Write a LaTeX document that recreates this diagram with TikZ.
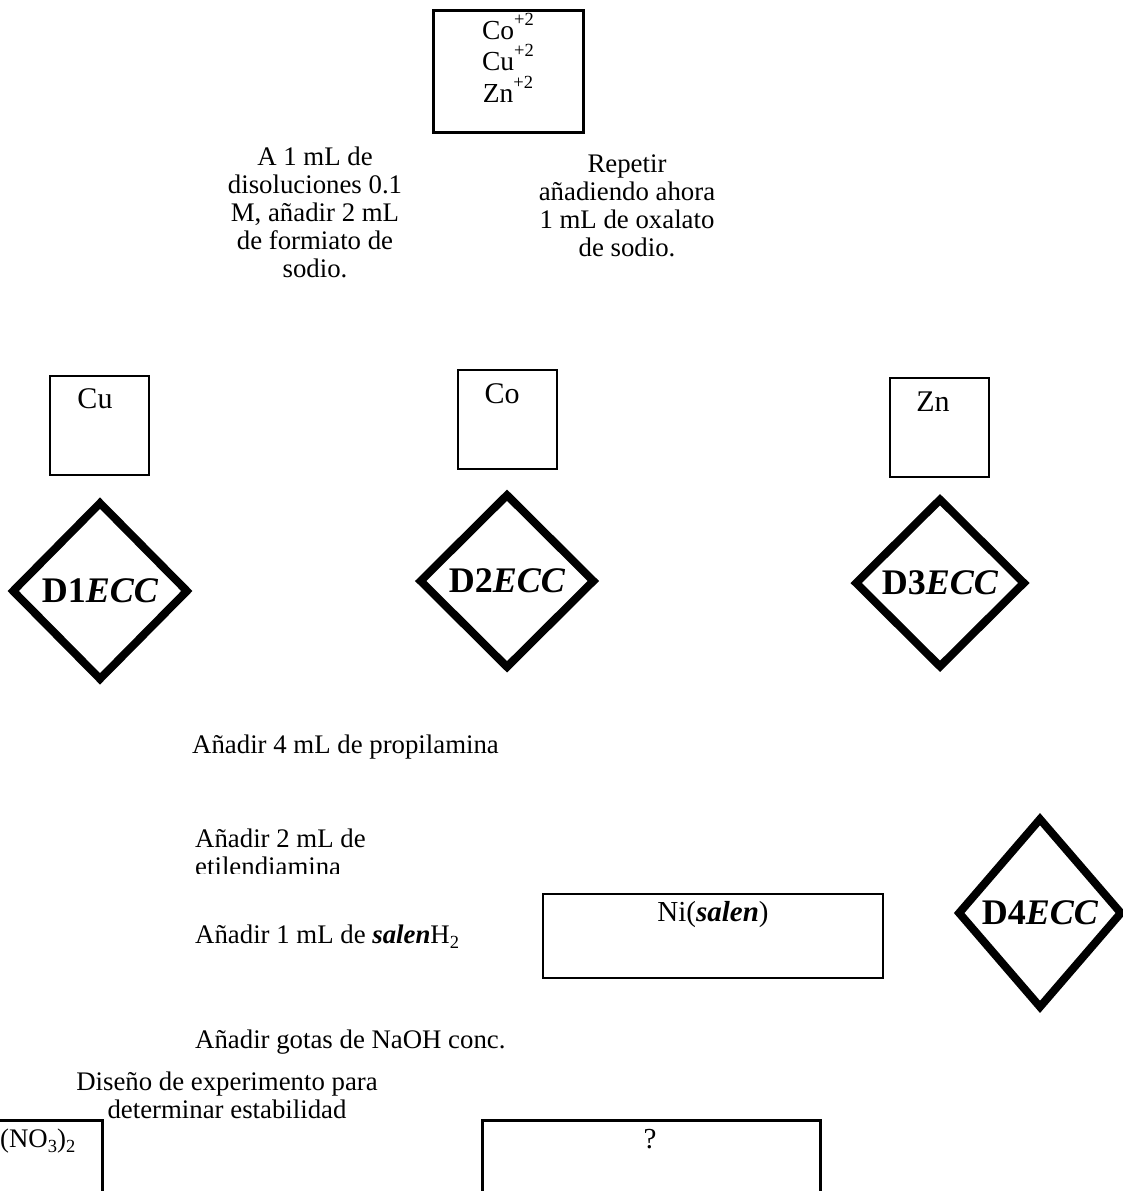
\documentclass[tikz,border=0pt]{standalone}
\usepackage{fontspec}
\setmainfont{Liberation Serif}
\usetikzlibrary{shapes.geometric}
\newcommand{\carga}[1]{\raisebox{14pt}{\fontsize{18.5}{18.5}\selectfont #1}}
\newcommand{\indice}[1]{\raisebox{-5pt}{\fontsize{18.5}{18.5}\selectfont #1}}
\begin{document}
\begin{tikzpicture}[x=1pt,y=-1pt,
        font=\fontsize{26.8}{28}\selectfont,
        caja/.style={draw,line width=2.5pt,inner sep=0pt},
        rombo/.style={diamond,draw,line width=8pt,inner sep=0pt,
                font=\fontsize{36}{40}\selectfont\bfseries},
        texto/.style={inner sep=0pt,align=center}]
        \useasboundingbox (0,0) rectangle (1122,1191);
        % disoluciones de partida
        \node[caja,line width=3pt,minimum width=150,minimum height=122] (iones) at (508,71) {};
        \node[texto,anchor=north,font=\fontsize{27.5}{31.5}\selectfont] (ionest) at (508,13)
                {Co\carga{+2}\\Cu\carga{+2}\\Zn\carga{+2}};
        \node[texto,anchor=north] (formiato) at (315,147)
                {A 1 mL de\\disoluciones 0.1\\M, añadir 2 mL\\de formiato de\\sodio.};
        \node[texto,anchor=north] (oxalato) at (627,155)
                {Repetir\\añadiendo ahora\\1 mL de oxalato\\de sodio.};
        % tubos
        \begin{scope}[every node/.style={caja,minimum width=99,minimum height=99}]
        \node (cu) at (99.5,425.5) {};
        \node (co) at (507.5,419.5) {};
        \node (zn) at (939.5,427.5) {};
        \end{scope}
        \begin{scope}[every node/.style={texto,anchor=base,font=\fontsize{30}{32}\selectfont}]
        \node (cut) at (95,408) {Cu};
        \node (cot) at (502,403) {Co};
        \node (znt) at (933,411) {Zn};
        \end{scope}
        % decisiones
        \node[rombo,minimum width=177,minimum height=179] (d1) at (100,591) {D1\textit{ECC}};
        \node[rombo,minimum width=176,minimum height=175] (d2) at (507,581) {D2\textit{ECC}};
        \node[rombo,minimum width=171,minimum height=170] (d3) at (940,583) {D3\textit{ECC}};
        \node[rombo,minimum width=165,minimum height=191] (d4) at (1040,913) {D4\textit{ECC}};
        % reactivos
        \begin{scope}[every node/.style={texto,anchor=base west}]
        \node (propil) at (192,753) {Añadir 4 mL de propilamina};
        \node (salenh) at (195,943) {Añadir 1 mL de \textbf{\textit{salen}}H\indice{2}};
        \node (naoh) at (195,1048) {Añadir gotas de NaOH conc.};
        \node (nitrato) at (0,1147) {(NO\indice{3})\indice{2}};
        \end{scope}
        \begin{scope}
        \clip (150,800) rectangle (600,873);
        \node[texto,align=left,anchor=north west] (etilen) at (195,829)
                {Añadir 2 mL de\\etilendiamina};
        \end{scope}
        \node[caja,minimum width=340,minimum height=84] (nisalen) at (713,936) {};
        \node[texto,anchor=base,font=\fontsize{29}{31}\selectfont] (nisalent) at (713,921)
                {Ni(\textbf{\textit{salen}})};
        % diseño
        \node[texto,anchor=north] (diseno) at (227,1072)
                {Diseño de experimento para\\determinar estabilidad};
        \node[caja,line width=3pt,minimum width=200,minimum height=150] (cajanit) at (2,1195) {};
        \node[caja,line width=3pt,minimum width=338,minimum height=150] (cajapreg) at (651,1195) {};
        \node[texto,anchor=base,font=\fontsize{29}{31}\selectfont] (pregunta) at (650,1148) {?};
\end{tikzpicture}
\end{document}
